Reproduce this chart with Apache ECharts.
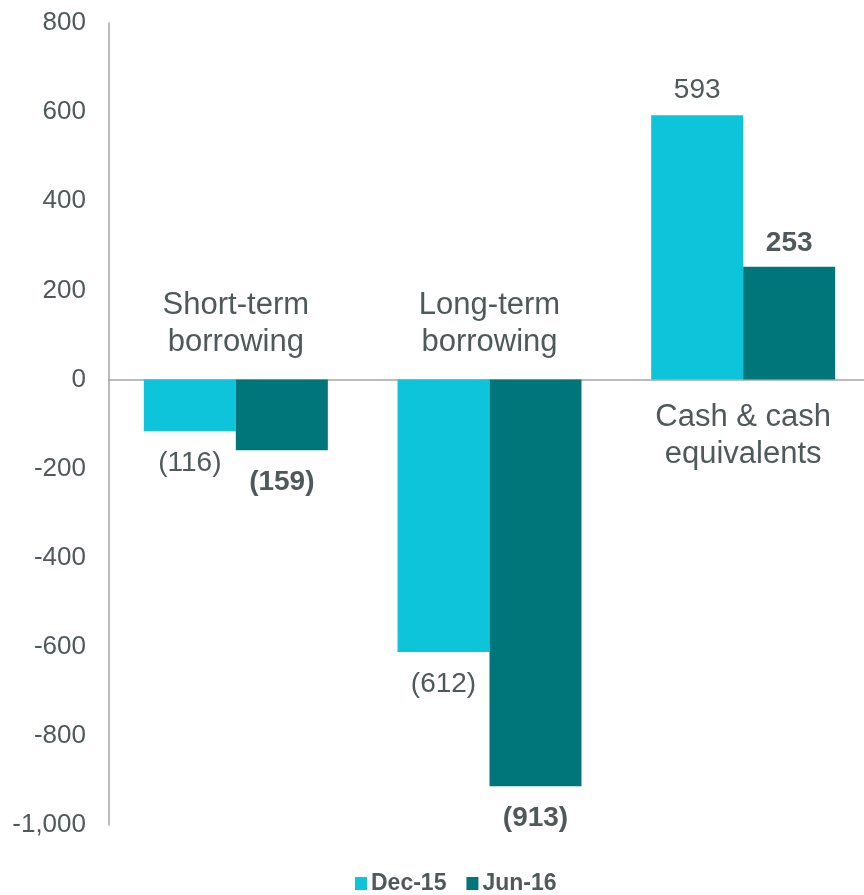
<!DOCTYPE html>
<html>
<head>
<meta charset="utf-8">
<script src="https://cdn.jsdelivr.net/npm/echarts@6/dist/echarts.min.js"></script>
<style>
html,body{margin:0;padding:0;background:#fff;overflow:hidden;}
#chart{width:872px;height:895px;}
</style>
</head>
<body>
<div id="chart"></div>
<script>
// ---- data ----
var categories = ['Short-term\nborrowing', 'Long-term\nborrowing', 'Cash & cash\nequivalents'];
var seriesNames = ['Dec-15', 'Jun-16'];
var dec15 = [-116, -612, 593];
var jun16 = [-159, -913, 253];
var yTicks = { min: -1000, max: 800, interval: 200 };

// ---- styles ----
var FONT = '"Liberation Sans", Arial, sans-serif';
var TEXT = '#4f595c';
var AXIS = '#a6a6a6';
var colors = ['#0DC4DB', '#00757A'];

function fmt(v) {
  return v < 0 ? '(' + Math.abs(v) + ')' : String(v);
}
function barData(arr, bold, topDist) {
  return arr.map(function (v) {
    return {
      value: v,
      label: {
        position: v < 0 ? 'bottom' : 'top',
        distance: v < 0 ? 18 : topDist,
        fontWeight: bold ? 'bold' : 'normal'
      }
    };
  });
}
// category label anchors at the zero line, placed on the side opposite the bars
var catLabelData = categories.map(function (c, i) {
  var neg = dec15[i] < 0;
  return {
    value: 0,
    label: { position: neg ? 'top' : 'bottom', distance: neg ? 18 : 20 }
  };
});

var chart = echarts.init(document.getElementById('chart'), null, { renderer: 'canvas' });
chart.setOption({
  animation: false,
  backgroundColor: '#ffffff',
  textStyle: { fontFamily: FONT },
  grid: { left: 109, top: 23, width: 761, bottom: 70, containLabel: false },
  legend: {
    data: seriesNames,
    bottom: -5,
    left: 350,
    itemWidth: 12,
    itemHeight: 13,
    itemGap: 20,
    icon: 'rect',
    textStyle: { fontFamily: FONT, fontSize: 23, fontWeight: 'bold', color: TEXT, padding: [0, 0, 0, -1] }
  },
  xAxis: {
    type: 'category',
    data: categories,
    axisLine: { onZero: true, lineStyle: { color: AXIS, width: 1.5 } },
    axisTick: { show: false },
    axisLabel: { show: false },
    splitLine: { show: false }
  },
  yAxis: {
    type: 'value',
    min: yTicks.min,
    max: yTicks.max,
    interval: yTicks.interval,
    axisLine: { show: true, lineStyle: { color: AXIS, width: 1.5 } },
    axisTick: { show: false },
    splitLine: { show: false },
    axisLabel: {
      margin: 23,
      fontSize: 26,
      fontFamily: FONT,
      color: TEXT,
      formatter: function (v) { return v.toLocaleString('en-US'); }
    }
  },
  series: [
    {
      name: seriesNames[0],
      type: 'bar',
      data: barData(dec15, false, 11),
      barWidth: 92,
      barGap: '0%',
      itemStyle: { color: colors[0] },
      label: {
        show: true,
        fontSize: 28,
        fontFamily: FONT,
        color: TEXT,
        formatter: function (p) { return fmt(p.value); }
      }
    },
    {
      name: seriesNames[1],
      type: 'bar',
      data: barData(jun16, true, 9),
      barWidth: 92,
      barGap: '0%',
      itemStyle: { color: colors[1] },
      label: {
        show: true,
        fontSize: 28,
        fontFamily: FONT,
        color: TEXT,
        formatter: function (p) { return fmt(p.value); }
      }
    },
    {
      name: 'categoryLabels',
      type: 'scatter',
      data: catLabelData,
      symbolSize: 0,
      silent: true,
      z: 5,
      itemStyle: { opacity: 1 },
      label: {
        show: true,
        fontSize: 31,
        lineHeight: 37,
        fontFamily: FONT,
        color: TEXT,
        opacity: 1,
        align: 'center',
        formatter: function (p) { return categories[p.dataIndex]; }
      }
    }
  ]
});
</script>
</body>
</html>
